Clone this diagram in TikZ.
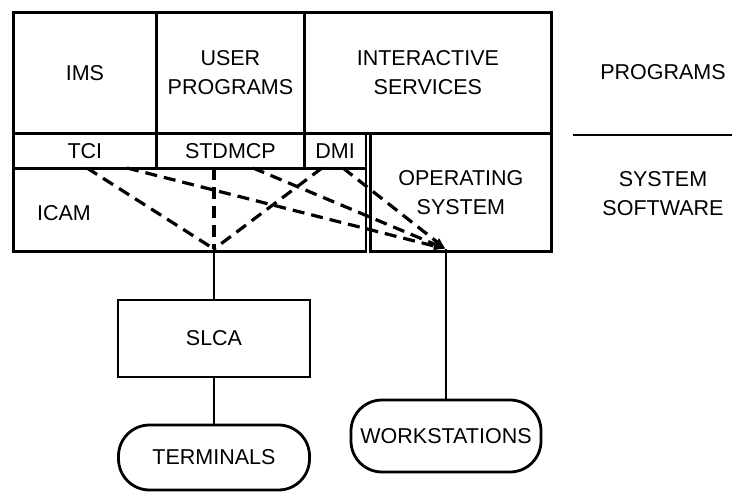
\documentclass[tikz,border=0pt]{standalone}
\usepackage{fontspec}
\setmainfont{Liberation Sans}
\usetikzlibrary{arrows.meta}
\begin{document}
\begin{tikzpicture}[x=1pt,y=-1pt,line width=2.8pt,
  txt/.style={inner sep=0pt,align=center,font=\fontsize{21.5}{29}\selectfont},
  box/.style={draw,txt,anchor=north west},
  pill/.style={draw,txt,rounded corners=31pt},
  link/.style={line width=3.2pt,dash pattern=on 12pt off 7pt}]
 \useasboundingbox (0,0) rectangle (732,492);
 \node[box,minimum width=143pt,minimum height=121pt] (ims) at (12,11) {IMS};
 \node[box,minimum width=148pt,minimum height=121pt] (user) at (155,11) {USER\\PROGRAMS};
 \node[box,minimum width=247pt,minimum height=121pt] (inter) at (303,11) {INTERACTIVE\\SERVICES};
 \node[box,minimum width=143pt,minimum height=35pt] (tci) at (12,132) {TCI};
 \node[box,minimum width=148pt,minimum height=35pt] (stdmcp) at (155,132) {STDMCP};
 \node[box,minimum width=61.5pt,minimum height=35pt] (dmi) at (303,132) {DMI};
 \node[box,minimum width=352.5pt,minimum height=83pt] (icam) at (12,167) {};
 \node[txt] (icamtxt) at (64,213) {ICAM};
 \node[box,minimum width=181pt,minimum height=118pt] (os) at (369,132) {OPERATING\\SYSTEM};
 \node[txt] (prog) at (663,72) {PROGRAMS};
 \draw (573,135) -- (732,135);
 \node[txt] (syssw) at (663,194) {SYSTEM\\SOFTWARE};
 \coordinate (a) at (214,249);
 \coordinate (b) at (446,249);
 \coordinate (t1) at (87,168);
 \coordinate (t2) at (127,168);
 \coordinate (s1) at (214,168);
 \coordinate (s2) at (253,168);
 \coordinate (d1) at (322,168);
 \coordinate (d2) at (343,168);
 \draw[link] (t1) -- (a);
 \draw[link] (s1) -- (a);
 \draw[link] (d1) -- (a);
 \draw[link,-{Latex[length=12pt,width=9pt]}] (t2) -- (b);
 \draw[link,-{Latex[length=12pt,width=9pt]}] (s2) -- (b);
 \draw[link,-{Latex[length=12pt,width=9pt]}] (d2) -- (b);
 \node[draw,txt,minimum width=192pt,minimum height=77pt] (slca) at (214,338.5) {SLCA};
 \node[pill,minimum width=191pt,minimum height=65pt] (terms) at (214,457.5) {TERMINALS};
 \node[pill,minimum width=190pt,minimum height=72pt] (ws) at (446,436) {WORKSTATIONS};
 \draw (a) -- (slca);
 \draw (slca) -- (terms);
 \draw (b) -- (ws);
\end{tikzpicture}
\end{document}
